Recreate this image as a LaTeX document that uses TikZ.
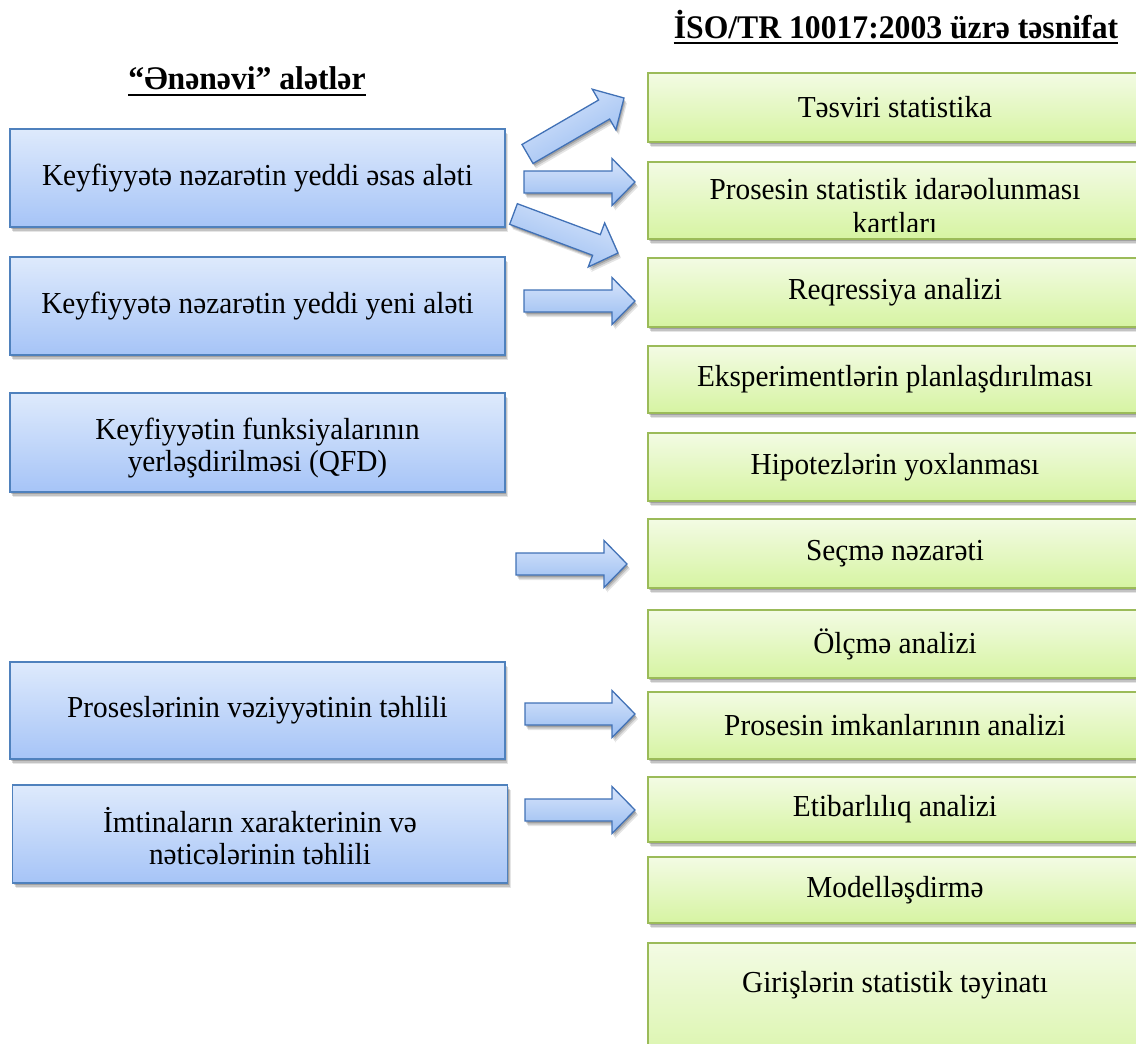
\documentclass[tikz,border=0pt]{standalone}
\usepackage{fontspec}
\setmainfont{Liberation Serif}[FakeStretch=0.96]
\usetikzlibrary{calc,shadows}
\definecolor{bluetop}{RGB}{222,234,252}
\definecolor{bluebot}{RGB}{166,196,247}
\definecolor{blueline}{RGB}{79,129,189}
\definecolor{greentop}{RGB}{243,251,228}
\definecolor{greenbot}{RGB}{214,244,162}
\definecolor{greenline}{RGB}{155,187,89}
\definecolor{arrtop}{RGB}{216,229,251}
\definecolor{arrbot}{RGB}{152,188,241}
\definecolor{arrline}{RGB}{65,113,182}
\newcommand\blockarr[3]{%
  \path ($(#2)!23pt!(#1)$) coordinate (bb);
  \draw[arrowstyle, shading angle=#3]
    ($(#1)!11pt!90:(#2)$) -- ($(bb)!11pt!90:(#2)$) -- ($(bb)!23.5pt!90:(#2)$) -- (#2)
    -- ($(bb)!23.5pt!-90:(#2)$) -- ($(bb)!11pt!-90:(#2)$) -- ($(#1)!11pt!-90:(#2)$) -- cycle;
}
\tikzset{
  shad/.style={
    drop shadow={shadow xshift=3pt, shadow yshift=-5pt, opacity=0.10, fill=black},
    drop shadow={shadow xshift=2pt, shadow yshift=-3.5pt, opacity=0.15, fill=black},
    drop shadow={shadow xshift=1pt, shadow yshift=-2pt, opacity=0.18, fill=black}},
  boxbase/.style={rectangle, inner sep=4pt, align=center, line width=1.3pt, shad,
    font=\fontsize{30.5}{33}\selectfont},
  bluebox/.style={boxbase, draw=blueline, top color=bluetop, bottom color=bluebot, minimum width=495pt},
  greenbox/.style={boxbase, draw=greenline, top color=greentop, bottom color=greenbot, minimum width=494pt},
  txt/.style={inner sep=0pt, align=center, font=\fontsize{30.5}{32}\selectfont},
  arrowstyle/.style={draw=arrline, line width=1.3pt, line join=miter, top color=arrtop, bottom color=arrbot, shad},
  titlefont/.style={inner sep=0pt, font=\fontsize{33}{36}\selectfont\bfseries}
}
\begin{document}
\begin{tikzpicture}[x=1pt,y=-1pt]
\useasboundingbox (0,0) rectangle (1136,1044);
% titles
\node[titlefont, anchor=base] (tl) at (247,89) {“Ənənəvi” alətlər};
\draw[line width=2.2pt] ([yshift=-6pt]tl.base west) -- ([yshift=-6pt]tl.base east);
\node[titlefont, anchor=base] (tr) at (896,38) {İSO/TR 10017:2003 üzrə təsnifat};
\draw[line width=2.2pt] ([yshift=-5pt]tr.base west) -- ([yshift=-5pt]tr.base east);
% blue boxes
\node[bluebox, minimum height=98pt] (b1) at (257.5,178) {Keyfiyyətə nəzarətin yeddi əsas aləti};
\node[bluebox, minimum height=98pt] (b2) at (257.5,306) {Keyfiyyətə nəzarətin yeddi yeni aləti};
\node[bluebox, minimum height=99pt] (b3) at (257.5,442.5) {};
\node[txt] (b3t) at (257.5,448) {Keyfiyyətin funksiyalarının\\yerləşdirilməsi (QFD)};
\node[bluebox, minimum height=97pt] (b4) at (257.5,710.5) {Proseslərinin vəziyyətinin təhlili};
\node[bluebox, minimum height=98pt] (b5) at (260,834) {};
\node[txt] (b5t) at (260,836) {İmtinaların xarakterinin və\\nəticələrinin təhlili};
% green boxes
\node[greenbox, minimum height=69pt] (g1) at (895,107.5) {Təsviri statistika};
\node[greenbox, minimum height=77pt] (g2) at (895,200.5) {};
\begin{scope}
\clip (648,162) rectangle (1142,231);
\node[txt, anchor=base] (g2a) at (895,199) {Prosesin statistik idarəolunması};
\node[txt, anchor=base] (g2b) at (895,233) {kartları};
\end{scope}
\node[greenbox, minimum height=69pt] (g3) at (895,292.5) {Reqressiya analizi};
\node[greenbox, minimum height=67pt] (g4) at (895,379.5) {Eksperimentlərin planlaşdırılması};
\node[greenbox, minimum height=68pt] (g5) at (895,467) {Hipotezlərin yoxlanması};
\node[greenbox, minimum height=69pt] (g6) at (895,553.5) {Seçmə nəzarəti};
\node[greenbox, minimum height=68pt] (g7) at (895,644) {Ölçmə analizi};
\node[greenbox, minimum height=67pt] (g8) at (895,725.5) {Prosesin imkanlarının analizi};
\node[greenbox, minimum height=65pt] (g9) at (895,809.5) {Etibarlılıq analizi};
\node[greenbox, minimum height=66pt] (g10) at (895,890) {Modelləşdirmə};
\node[greenbox, minimum height=140pt] (g11) at (895,1013) {};
\node[txt] (g11t) at (895,985) {Girişlərin statistik təyinatı};
% arrows
\coordinate (a1t) at (527.5,154); \coordinate (a1h) at (624,98);
\coordinate (a2t) at (524,182);   \coordinate (a2h) at (635,182);
\coordinate (a3t) at (513.5,214); \coordinate (a3h) at (618,253);
\coordinate (a4t) at (524,301);   \coordinate (a4h) at (635,301);
\coordinate (a5t) at (516,564);   \coordinate (a5h) at (627,564);
\coordinate (a6t) at (525,714);   \coordinate (a6h) at (635,714);
\coordinate (a7t) at (525,810);   \coordinate (a7h) at (635,810);
\blockarr{a1t}{a1h}{30}
\blockarr{a2t}{a2h}{0}
\blockarr{a3t}{a3h}{-20.5}
\blockarr{a4t}{a4h}{0}
\blockarr{a5t}{a5h}{0}
\blockarr{a6t}{a6h}{0}
\blockarr{a7t}{a7h}{0}
\end{tikzpicture}
\end{document}
